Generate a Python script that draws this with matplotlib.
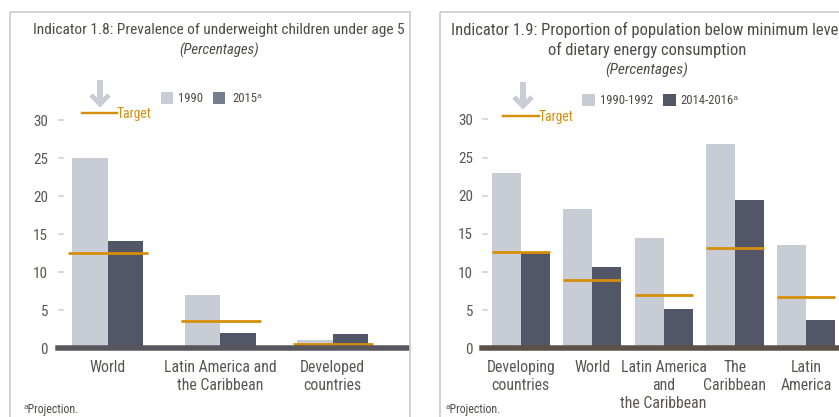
import matplotlib
matplotlib.use("Agg")
import matplotlib.pyplot as plt
from matplotlib import font_manager as fm
from matplotlib.patches import Rectangle
from matplotlib.lines import Line2D
import numpy as np

# ---------------- data ----------------
left_categories = ["World", "Latin America and\nthe Caribbean", "Developed\ncountries"]
left_1990 = [25.0, 7.0, 1.0]
left_2015 = [14.1, 2.0, 1.9]
left_target = [12.5, 3.5, 0.5]
left_series = ["1990", "2015ᵃ"]

right_categories = ["Developing\ncountries", "World", "Latin America\nand\nthe Caribbean",
                    "The\nCaribbean", "Latin\nAmerica"]
right_1990 = [23.0, 18.3, 14.4, 26.8, 13.6]
right_2015 = [12.5, 10.6, 5.1, 19.5, 3.7]
right_target = [12.6, 9.0, 7.0, 13.2, 6.7]
right_series = ["1990-1992", "2014-2016ᵃ"]

yticks = [0, 5, 10, 15, 20, 25, 30]

left_title = "Indicator 1.8: Prevalence of underweight children under age 5"
right_title1 = "Indicator 1.9: Proportion of population below minimum level"
right_title2 = "of dietary energy consumption"
subtitle = "(Percentages)"
target_label = "Target"
footnote = "ᵃProjection."

# ---------------- style ----------------
avail = {f.name for f in fm.fontManager.ttflist}
FONT = "DejaVu Sans"
for cand in ["Liberation Sans Narrow", "Roboto Condensed", "Open Sans Condensed", "Liberation Sans"]:
    if cand in avail:
        FONT = cand
        break
plt.rcParams["font.family"] = [FONT, "DejaVu Sans"]

C_LIGHT = "#c8ccd4"
C_DARK = "#535667"
C_DARK_LEG_L = "#737e8e"
C_ORANGE = "#d58f0b"
C_TEXT = "#4e4a47"
C_TICK = "#5b5651"
C_BASE_L = "#56565c"
C_BASE_R = "#5d5049"
C_BOX = "#c9c9c9"
C_TICKMARK = "#d2d2d2"

W, H = 839, 417
fig = plt.figure(figsize=(W / 100, H / 100), dpi=100)
fig.patch.set_facecolor("white")
renderer = fig.canvas.get_renderer()
PX = 0.72  # points per pixel


def fit(t, width_px):
    """scale a text's font size so that its rendered width matches width_px"""
    for _ in range(2):
        w = t.get_window_extent(renderer).width
        t.set_fontsize(t.get_fontsize() * width_px / w)
    return t.get_fontsize()


def px_axes(l, r, top, bottom):
    return fig.add_axes([l / W, (H - bottom) / H, (r - l) / W, (bottom - top) / H])


# overlay axes in pixel coordinates
ov = fig.add_axes([0, 0, 1, 1], zorder=5)
ov.set_xlim(0, W)
ov.set_ylim(H, 0)
ov.axis("off")
ov.patch.set_alpha(0)

# panel boxes
ov.add_patch(Rectangle((10, 12), 400, 520, fill=False, ec=C_BOX, lw=1.6 * PX))
ov.add_patch(Rectangle((440, 12), 520, 520, fill=False, ec=C_BOX, lw=1.6 * PX))

# titles
t = ov.text(219, 30, left_title, ha="center", va="center", color=C_TEXT, fontsize=12)
fit(t, 372)
t = ov.text(219, 50, subtitle, ha="center", va="center", color=C_TEXT, fontsize=12, style="italic")
sub_fs = fit(t, 80)
t2 = ov.text(647, 50, right_title2, ha="center", va="center", color=C_TEXT, fontsize=12)
rt_fs = fit(t2, 198)
ov.text(647, 30, right_title1, ha="center", va="center", color=C_TEXT, fontsize=rt_fs)
ov.text(647, 70, subtitle, ha="center", va="center", color=C_TEXT, fontsize=sub_fs * 1.04, style="italic")

# legend
t = ov.text(178, 98, left_series[0], ha="left", va="center", color=C_TEXT, fontsize=10)
leg_fs = fit(t, 25)
ov.text(232, 98, left_series[1], ha="left", va="center", color=C_TEXT, fontsize=leg_fs)
ov.add_patch(Rectangle((161, 92), 12, 12, fc=C_LIGHT, ec="none"))
ov.add_patch(Rectangle((213, 92), 12, 12, fc=C_DARK_LEG_L, ec="none"))

ov.text(600, 100, right_series[0], ha="left", va="center", color=C_TEXT, fontsize=leg_fs)
ov.text(680, 100, right_series[1], ha="left", va="center", color=C_TEXT, fontsize=leg_fs)
ov.add_patch(Rectangle((582, 94), 13, 12, fc=C_LIGHT, ec="none"))
ov.add_patch(Rectangle((663, 94), 13, 12, fc=C_DARK, ec="none"))


def target_key(xc, ytop, x0, x1, yline):
    # down arrow
    ov.add_line(Line2D([xc, xc], [ytop, ytop + 23], color=C_LIGHT, lw=6 * PX, solid_capstyle="butt"))
    ov.add_line(Line2D([xc - 9, xc, xc + 9], [ytop + 15, ytop + 24, ytop + 15], color=C_LIGHT,
                       lw=5 * PX, solid_joinstyle="miter", solid_capstyle="butt"))
    ov.add_line(Line2D([x0, x1], [yline, yline], color=C_ORANGE, lw=2.4 * PX))
    tt = ov.text(x1, yline + 1, target_label, ha="left", va="center", color=C_ORANGE, fontsize=10)
    return tt


tt = target_key(100, 80, 82, 117, 113)
tgt_fs = fit(tt, 35)
tt2 = target_key(523, 82, 503, 539, 116)
tt2.set_fontsize(tgt_fs)

# footnotes
t = ov.text(24, 410, footnote, ha="left", va="center", color=C_TEXT, fontsize=9.5)
foot_fs = fit(t, 55)
ov.text(445, 410, footnote, ha="left", va="center", color=C_TEXT, fontsize=foot_fs)


def panel(ax, cats, v1, v2, tgt, xlim, bw, tspan, base_color, tick_pad, cat_fs, tick_fs):
    x = np.arange(len(cats))
    ax.bar(x - bw / 2, v1, width=bw, color=C_LIGHT, zorder=2)
    ax.bar(x + bw / 2, v2, width=bw, color=C_DARK, zorder=2)
    for xi, tv in zip(x, tgt):
        ax.plot([xi - tspan[0], xi + tspan[1]], [tv, tv], color=C_ORANGE, lw=2.8 * PX,
                solid_capstyle="butt", zorder=3, clip_on=False)
    ax.axhline(0, color=base_color, lw=5.5 * PX, zorder=4, clip_on=False)
    ax.set_xlim(*xlim)
    ax.set_ylim(0, 30)
    for s in ax.spines.values():
        s.set_visible(False)
    ax.patch.set_alpha(0)
    ax.set_yticks(yticks)
    ax.set_yticklabels([str(v) for v in yticks])
    ax.tick_params(axis="y", direction="in", length=6 * PX, width=1.6 * PX, color=C_TICKMARK,
                   pad=tick_pad, labelsize=tick_fs, labelcolor=C_TICK)
    ax.set_xticks(x)
    ax.set_xticklabels(cats, linespacing=1.22)
    ax.tick_params(axis="x", length=0, pad=12 * PX, labelsize=cat_fs, labelcolor=C_TICK)


# measure category font size from "World"
t = ov.text(0, -100, "World", fontsize=11)
cat_fs = fit(t, 36)
t.remove()
t = ov.text(0, -100, "25", fontsize=11)
tick_fs = fit(t, 15)
t.remove()

# left panel: centers at 107.6 px + 112.5 px per category, y0 at 348 px, 7.6 px/unit
axL = px_axes(58, 407, 348 - 30 * 7.6, 348)
panel(axL, left_categories, left_1990, left_2015, left_target,
      ((58 - 107.6) / 112.5, (407 - 107.6) / 112.5), 0.316, (0.35, 0.36), C_BASE_L,
      7.2, cat_fs, tick_fs)

# right panel: centers at 520.8 px + 71.4 px per category, y0 at 348.3 px, 7.63 px/unit
axR = px_axes(482, 849, 348.3 - 30 * 7.63, 348.3)
panel(axR, right_categories, right_1990, right_2015, right_target,
      ((482 - 520.8) / 71.4, (849 - 520.8) / 71.4), 0.406, (0.406, 0.406), C_BASE_R,
      6.6, cat_fs, tick_fs)

fig.savefig("out.png", dpi=100, facecolor="white")
